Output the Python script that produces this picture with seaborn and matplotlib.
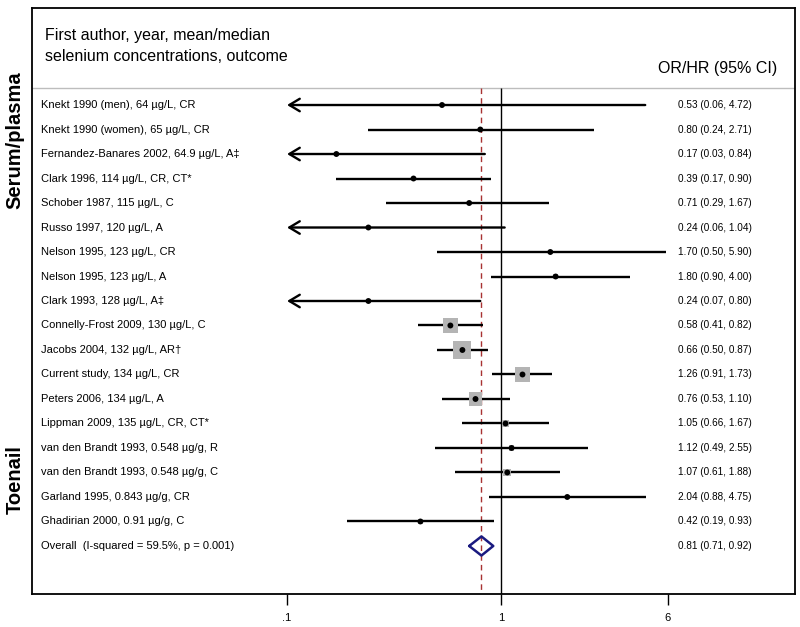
import numpy as np
import pandas as pd
import seaborn as sns
import matplotlib.pyplot as plt

# -------------------------------
# Data
# -------------------------------
studies = [
    "Knekt 1990 (men), 64 µg/L, CR",
    "Knekt 1990 (women), 65 µg/L, CR",
    "Fernandez-Banares 2002, 64.9 µg/L, A‡",
    "Clark 1996, 114 µg/L, CR, CT*",
    "Schober 1987, 115 µg/L, C",
    "Russo 1997, 120 µg/L, A",
    "Nelson 1995, 123 µg/L, CR",
    "Nelson 1995, 123 µg/L, A",
    "Clark 1993, 128 µg/L, A‡",
    "Connelly-Frost 2009, 130 µg/L, C",
    "Jacobs 2004, 132 µg/L, AR†",
    "Current study, 134 µg/L, CR",
    "Peters 2006, 134 µg/L, A",
    "Lippman 2009, 135 µg/L, CR, CT*",
    "van den Brandt 1993, 0.548 µg/g, R",
    "van den Brandt 1993, 0.548 µg/g, C",
    "Garland 1995, 0.843 µg/g, CR",
    "Ghadirian 2000, 0.91 µg/g, C",
]
est = [0.53, 0.80, 0.17, 0.39, 0.71, 0.24, 1.70, 1.80, 0.24,
       0.58, 0.66, 1.26, 0.76, 1.05, 1.12, 1.07, 2.04, 0.42]
lo = [0.06, 0.24, 0.03, 0.17, 0.29, 0.06, 0.50, 0.90, 0.07,
      0.41, 0.50, 0.91, 0.53, 0.66, 0.49, 0.61, 0.88, 0.19]
hi = [4.72, 2.71, 0.84, 0.90, 1.67, 1.04, 5.90, 4.00, 0.80,
      0.82, 0.87, 1.73, 1.10, 1.67, 2.55, 1.88, 4.75, 0.93]
# approximate study weights (%)
weights = [0.5, 1.0, 0.5, 0.9, 1.1, 0.5, 0.7, 2.5, 0.6,
           16.5, 26.0, 18.5, 14.0, 4.3, 2.2, 5.0, 1.8, 2.0]

overall_label = "Overall  (I-squared = 59.5%, p = 0.001)"
overall_est, overall_lo, overall_hi = 0.81, 0.71, 0.92

xticks = [0.1, 1, 6]
xticklabels = [".1", "1", "6"]
x_min, x_max = 0.1, 6  # CI display range, arrows beyond

df = pd.DataFrame({"study": studies, "est": est, "lo": lo, "hi": hi, "w": weights})
df["row"] = np.arange(len(df))
overall_row = len(df)

# -------------------------------
# Figure
# -------------------------------
sns.set_style("white")
plt.rcParams["font.family"] = ["Liberation Sans", "DejaVu Sans"]
plt.rcParams["text.color"] = "black"
plt.rcParams["xtick.color"] = "black"
plt.rcParams["xtick.labelcolor"] = "black"

fig = plt.figure(figsize=(8, 6.27), dpi=100)
ax = fig.add_axes([32 / 800, 1 - 594 / 627, 763 / 800, 586 / 627])
ax.set_xscale("log")
ax.set_xlim(10 ** -2.192, 10 ** 1.374)
ax.set_ylim(19.96, -3.96)

header_y = -0.694

# reference lines
ax.axhline(header_y, color="#bdbdbd", lw=1)
ax.vlines(1, header_y, 19.96, color="black", lw=1)
ax.vlines(overall_est, header_y, 19.96, color="#a83232", lw=1, linestyles=(0, (4, 3)))

# confidence intervals
for _, r in df.iterrows():
    left = max(r["lo"], x_min)
    right = min(r["hi"], x_max)
    if r["lo"] < x_min:
        ax.annotate("", xy=(left, r["row"]), xytext=(right, r["row"]),
                    arrowprops=dict(arrowstyle="->,head_length=0.75,head_width=0.45",
                                    lw=1.7, color="black", shrinkA=0, shrinkB=0))
    else:
        ax.hlines(r["row"], left, right, color="black", lw=1.7)

# weight boxes (area proportional to weight)
wmin, wmax = df["w"].min(), df["w"].max()
k = 6.46
sns.scatterplot(data=df, x="est", y="row", size="w", sizes=(k * wmin, k * wmax),
                size_norm=(wmin, wmax), marker="s", color="#b4b4b4",
                edgecolor="none", legend=False, ax=ax, zorder=3)
# point estimates
sns.scatterplot(data=df, x="est", y="row", color="black", s=18,
                edgecolor="none", legend=False, ax=ax, zorder=4)

# overall diamond
h = 0.39
ax.plot([overall_lo, overall_est, overall_hi, overall_est, overall_lo],
        [overall_row, overall_row - h, overall_row, overall_row + h, overall_row],
        color="#1a1a80", lw=1.8, zorder=5)

# text columns
tr = ax.get_yaxis_transform()
for _, r in df.iterrows():
    ax.text(0.0118, r["row"], r["study"], transform=tr, ha="left", va="center", fontsize=8)
    ax.text(0.8467, r["row"], f"{r['est']:.2f} ({r['lo']:.2f}, {r['hi']:.2f})",
            transform=tr, ha="left", va="center", fontsize=7.2)
ax.text(0.0118, overall_row, overall_label, transform=tr, ha="left", va="center", fontsize=8)
ax.text(0.8467, overall_row, f"{overall_est:.2f} ({overall_lo:.2f}, {overall_hi:.2f})",
        transform=tr, ha="left", va="center", fontsize=7.2)

ax.text(0.017, -2.41, "First author, year, mean/median\nselenium concentrations, outcome",
        transform=tr, ha="left", va="center", fontsize=11.5, linespacing=1.45)
ax.text(0.9764, -1.51, "OR/HR (95% CI)", transform=tr, ha="right", va="center", fontsize=11.5)

# group labels
fig.text(15 / 800, 1 - 140 / 627, "Serum/plasma", rotation=90, ha="center", va="center",
         fontsize=14.5, fontweight="bold", color="black")
fig.text(15 / 800, 1 - 480 / 627, "Toenail", rotation=90, ha="center", va="center",
         fontsize=14.5, fontweight="bold", color="black")

# axes styling
ax.set_xticks(xticks)
ax.set_xticklabels(xticklabels)
ax.minorticks_off()
ax.set_yticks([])
ax.set_xlabel("")
ax.set_ylabel("")
ax.tick_params(axis="x", bottom=True, direction="out", length=8, width=1,
               labelsize=8, pad=6, colors="black")
for s in ax.spines.values():
    s.set_color("black")
    s.set_linewidth(1.3)

fig.savefig("out.png", dpi=100)
